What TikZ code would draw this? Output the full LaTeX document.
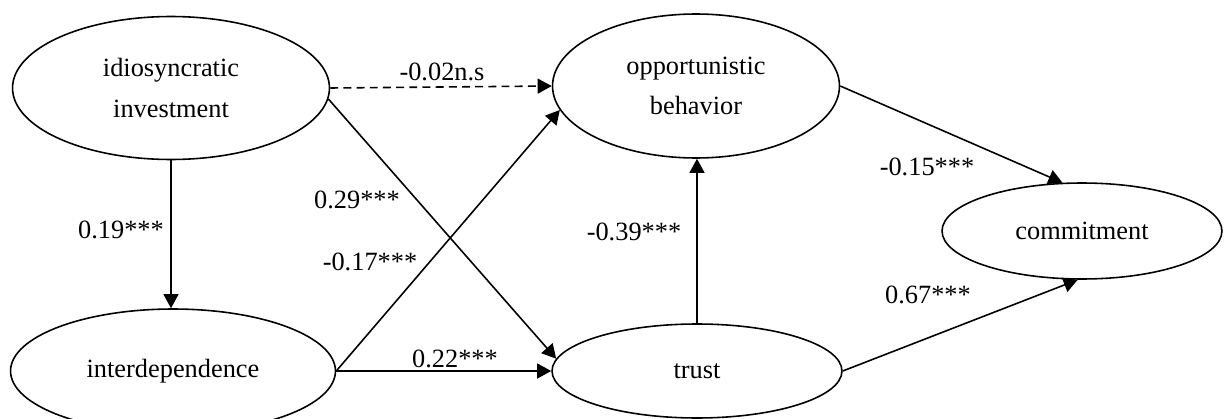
\documentclass[tikz,border=0pt]{standalone}
\usepackage{fontspec}
\setmainfont{Liberation Serif}
\usetikzlibrary{shapes.geometric,arrows.meta}

\begin{document}
\begin{tikzpicture}[x=0.02cm,y=-0.02cm,
        latent/.style={draw, ellipse, line width=0.9pt, inner sep=0pt, align=center, font=\fontsize{15}{22.8}\selectfont},
        effect/.style={line width=0.9pt, -{Triangle[length=8pt,width=8.5pt]}},
        coef/.style={inner sep=0pt, font=\fontsize{15}{18}\selectfont}]

        \useasboundingbox (0,0) rectangle (1225,419);

        % Draw the constructs as ellipses
        \node[latent, minimum width=6.34cm, minimum height=2.86cm] (idio) at (171,88) {idiosyncratic\\investment};
        \node[latent, minimum width=5.74cm, minimum height=2.88cm] (opp) at (696,86) {opportunistic\\behavior};
        \node[latent, minimum width=5.6cm, minimum height=1.92cm] (commit) at (1082,231) {commitment};
        \node[latent, minimum width=6.5cm, minimum height=2.48cm] (inter) at (173,371) {interdependence};
        \node[latent, minimum width=5.8cm, minimum height=1.88cm] (trust) at (697,371) {trust};

        % Draw the paths between the constructs
        \draw[effect, dash pattern=on 4.5pt off 3pt] (idio.east) -- (opp.west);
        \draw[effect] (idio.-4) -- (trust.175);
        \draw[effect] (idio.south) -- (idio.south |- inter.north);
        \draw[effect] (inter.east) -- (opp.190);
        \draw[effect] (inter.east) -- (trust.west);
        \draw[effect] (trust.north) -- (trust.north |- opp.south);
        \draw[effect] (opp.east) -- (commit.112);
        \draw[effect] (trust.east) -- (commit.265);

        % Put the path coefficients
        \foreach \name/\x/\y/\txt in {cns/442/72/-0.02n.s, cit/357/200/0.29***, cii/121/230/0.19***,
                                      cio/370/262/-0.17***, cst/455/359/0.22***, cto/634/232/-0.39***,
                                      coc/927/167/-0.15***, ctc/928/295/0.67***} {
            \node[coef] (\name) at (\x,\y) {\txt};
        }

\end{tikzpicture}
\end{document}
